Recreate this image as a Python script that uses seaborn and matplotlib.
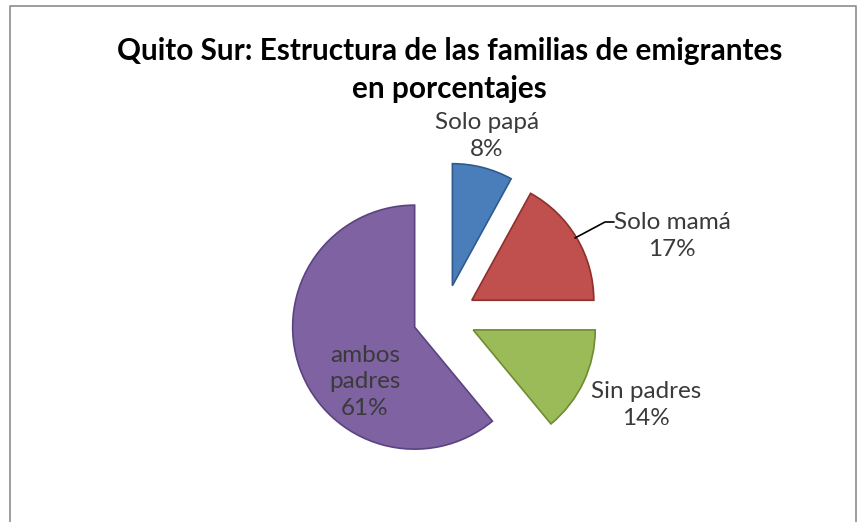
import seaborn as sns
import matplotlib.pyplot as plt
from matplotlib.lines import Line2D

# data
labels = ["Solo papá", "Solo mamá", "Sin padres", "ambos\npadres"]
percent = [8, 17, 14, 61]
colors = ["#4A7EBB", "#C0504D", "#9BBB59", "#7F62A1"]
edge_colors = ["#2F5A8E", "#8E2F2C", "#6E8C32", "#5A4380"]

sns.set_theme(style="white")
plt.rcParams["font.family"] = ["Lato", "DejaVu Sans"]

fig = plt.figure(figsize=(8.6, 5.22), dpi=100)
W, H = 860, 522

# pie axes: center at (444.5, 316.4) px, radius 122 px
R = 122.0
cx, cy = 444.5, 316.4
L = 1.6
side = 2 * L * R
ax = fig.add_axes([(cx - side / 2) / W, (H - cy - side / 2) / H, side / W, side / H])

wedges, _ = ax.pie(
    percent,
    colors=colors,
    startangle=90,
    counterclock=False,
    explode=[0.26] * 4,
    radius=1.0,
    wedgeprops=dict(linewidth=1.2),
)
for w, ec in zip(wedges, edge_colors):
    w.set_edgecolor(ec)
ax.set_xlim(-L, L)
ax.set_ylim(-L, L)
ax.set_aspect("equal")
ax.axis("off")


def to_data(px, py):
    return (px - cx) / R, (cy - py) / R


txt_color = "#3A3A3A"
fs = 17.5
label_pos = [(487, 136), (672, 236), (646, 405), (365, 382)]
for lab, p, pos in zip(labels, percent, label_pos):
    x, y = to_data(*pos)
    ax.text(x, y, f"{lab}\n{p}%", ha="center", va="center", fontsize=fs,
            color=txt_color, linespacing=1.3)

# leader line for "Solo mamá"
pts = [to_data(575, 238), to_data(605, 222), to_data(614, 222)]
ax.plot([p[0] for p in pts], [p[1] for p in pts], color="black", lw=1.2)

# title
fig.text(0.523, 1 - 51 / H, "Quito Sur: Estructura de las familias de emigrantes",
         ha="center", va="center", fontsize=21.4, fontweight="bold", color="black")
fig.text(0.523, 1 - 89 / H, "en porcentajes",
         ha="center", va="center", fontsize=21.4, fontweight="bold", color="black")

# chart border (left, top, right)
bx = [9.5 / W, 9.5 / W, 855.5 / W, 855.5 / W]
by = [0, 1 - 5.5 / H, 1 - 5.5 / H, 0]
fig.add_artist(Line2D(bx, by, transform=fig.transFigure, color="#8C8C8C", lw=1.2))

fig.savefig("out.png", dpi=100)
